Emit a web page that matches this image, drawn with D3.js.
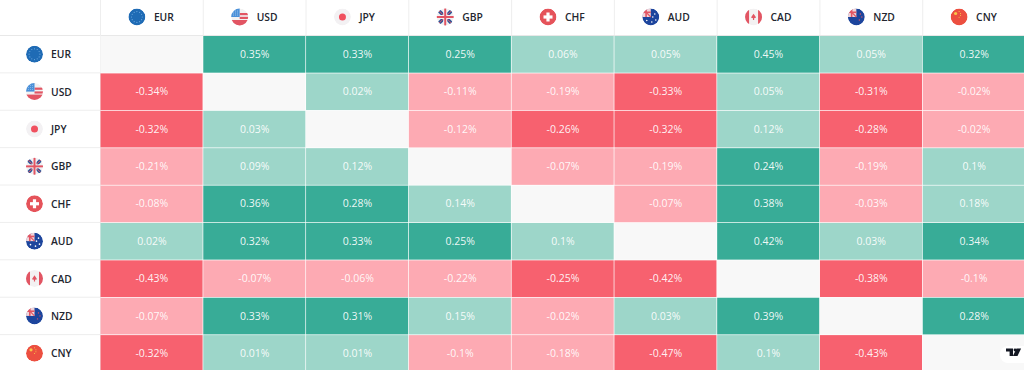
<!DOCTYPE html>
<html><head><meta charset="utf-8">
<script src="https://cdnjs.cloudflare.com/ajax/libs/d3/7.8.5/d3.min.js"></script>
<style>html,body{margin:0;padding:0;background:#fff;overflow:hidden}svg{display:block}
text{font-family:"Open Sans",sans-serif}</style></head><body><svg id="c" width="1024" height="370"></svg>
<script>
const currencies=["EUR","USD","JPY","GBP","CHF","AUD","CAD","NZD","CNY"];
const rowEUR=[null,.35,.33,.25,.06,.05,.45,.05,.32];
const rowUSD=[-.34,null,.02,-.11,-.19,-.33,.05,-.31,-.02];
const rowJPY=[-.32,.03,null,-.12,-.26,-.32,.12,-.28,-.02];
const rowGBP=[-.21,.09,.12,null,-.07,-.19,.24,-.19,.1];
const rowCHF=[-.08,.36,.28,.14,null,-.07,.38,-.03,.18];
const rowAUD=[.02,.32,.33,.25,.1,null,.42,.03,.34];
const rowCAD=[-.43,-.07,-.06,-.22,-.25,-.42,null,-.38,-.1];
const rowNZD=[-.07,.33,.31,.15,-.02,.03,.39,null,.28];
const rowCNY=[-.32,.01,.01,-.1,-.18,-.47,.1,-.43,null];
const matrix=[rowEUR,rowUSD,rowJPY,rowGBP,rowCHF,rowAUD,rowCAD,rowNZD,rowCNY];

const svg=d3.select("#c");
const x=d3.scaleBand().domain(currencies).range([100.5,1025.5]);
const y=d3.scaleBand().domain(currencies).range([35.5,372]);
const color=d3.scaleThreshold().domain([-.235,0,.2]).range(["#f7616f","#fdaab3","#9dd6c9","#38ac97"]);

const cells=matrix.flatMap((r,i)=>r.map((v,j)=>({row:currencies[i],col:currencies[j],v})));
svg.append("g").selectAll("line").data(currencies).join("line")
 .attr("x1",0).attr("x2",100).attr("y1",d=>y(d)+y.bandwidth()).attr("y2",d=>y(d)+y.bandwidth()).attr("stroke","#eeeeee");
svg.append("line").attr("x1",0).attr("x2",1024).attr("y1",35.5).attr("y2",35.5).attr("stroke","#e8e8e8");
svg.append("g").selectAll("line").data(currencies).join("line")
 .attr("x1",d=>x(d)).attr("x2",d=>x(d)).attr("y1",0).attr("y2",35).attr("stroke","#eeeeee");
svg.append("line").attr("x1",100.5).attr("x2",100.5).attr("y1",0).attr("y2",370).attr("stroke","#eeeeee");

const g=svg.append("g");
g.selectAll("rect").data(cells).join("rect")
 .attr("x",d=>x(d.col)).attr("y",d=>y(d.row)+.5)
 .attr("width",x.bandwidth()-.7).attr("height",y.bandwidth()-.7)
 .attr("fill",d=>d.v===null?"#f8f8f8":color(d.v));
g.selectAll("text").data(cells.filter(d=>d.v!==null)).join("text")
 .attr("x",d=>x(d.col)+x.bandwidth()/2).attr("y",d=>y(d.row)+y.bandwidth()/2+3.6)
 .attr("text-anchor","middle").attr("fill","#fff").attr("fill-opacity",.92).attr("font-size",10.5)
 .text(d=>d.v+"%");

const defs=svg.append("defs");
let uid=0;
function flag(sel,code,cx,cy){
 const id="f"+(uid++),r=8.5;
 defs.append("clipPath").attr("id",id).append("circle").attr("cx",cx).attr("cy",cy).attr("r",r);
 const f=sel.append("g").attr("clip-path",`url(#${id})`);
 const R=(a,b,w,h,c)=>f.append("rect").attr("x",cx+a).attr("y",cy+b).attr("width",w).attr("height",h).attr("fill",c);
 const C=(a,b,rad,c)=>f.append("circle").attr("cx",cx+a).attr("cy",cy+b).attr("r",rad).attr("fill",c);
 const L=(a,b,c2,d,col,w)=>f.append("line").attr("x1",cx+a).attr("y1",cy+b).attr("x2",cx+c2).attr("y2",cy+d).attr("stroke",col).attr("stroke-width",w);
 const ukCorner=()=>{R(-9,-9,9,9,"#f0d5da");L(-9,-9,0,0,"#e25563",1.2);R(-9,-5.5,9,1.6,"#e25563");R(-5.5,-9,1.6,9,"#e25563");};
 if(code==="EUR"){
  C(0,0,r,"#1f6bb5");
  d3.range(12).forEach(k=>{const t=k*Math.PI/6;C(5.4*Math.cos(t),5.4*Math.sin(t),.6,"#6aa6de");});
 }else if(code==="USD"){
  C(0,0,r,"#f2f2f2");
  R(-9,3,18,6,"#e25563");R(0,-4,9,2.2,"#e25563");R(0,-.2,9,2.2,"#e25563");
  R(-9,-9,9,9,"#4a90d9");
  [-6,-4,-2].forEach(a=>[-6,-4,-2].forEach(b=>C(a,b,.45,"#dcebf8")));
 }else if(code==="JPY"){
  C(0,0,r,"#f3f1f3");C(0,0,3.5,"#f0505f");
 }else if(code==="GBP"){
  C(0,0,r,"#eeeef2");
  L(-9,-9,9,9,"#2f5597",3.4);L(-9,9,9,-9,"#2f5597",3.4);
  L(-9,-9,9,9,"#e25563",1);L(-9,9,9,-9,"#e25563",1);
  R(-9,-2,18,4,"#f3f3f5");R(-2,-9,4,18,"#f3f3f5");
  R(-9,-1,18,2,"#e25563");R(-1,-9,2,18,"#e25563");
 }else if(code==="CHF"){
  C(0,0,r,"#e5535a");R(-4.5,-1.6,9,3.2,"#fff");R(-1.6,-4.5,3.2,9,"#fff");
 }else if(code==="AUD"||code==="NZD"){
  C(0,0,r,"#1d459d");ukCorner();
  if(code==="AUD"){[[4,-3],[5,3],[1,5],[-4,3.5],[2,0]].forEach(p=>C(p[0],p[1],.8,"#fff"));}
  else{[[4,-3],[5.5,0],[3,3]].forEach(p=>C(p[0],p[1],.7,"#e25563"));}
 }else if(code==="CAD"){
  C(0,0,r,"#f3f1f2");R(-9,-9,4.5,18,"#e25563");R(4.5,-9,4.5,18,"#e25563");
  f.append("path").attr("d",d3.line()([[cx,cy-3.2],[cx+2.6,cy+.6],[cx+.6,cy+1.2],[cx+.6,cy+3],[cx-.6,cy+3],[cx-.6,cy+1.2],[cx-2.6,cy+.6]])).attr("fill","#e25563");
 }else if(code==="CNY"){
  C(0,0,r,"#ec4f40");C(-3.5,-3.5,1.6,"#f7c948");[[0,-5.5],[1.4,-3.5],[1.4,-1.5],[0,.2]].forEach(p=>C(p[0],p[1],.55,"#f7c948"));
 }
}
const labelStyle=s=>s.attr("font-size",10.3).attr("font-weight",600).attr("fill","#23262f");
const hdr=svg.append("g");
currencies.forEach(c=>{
 const cx=x(c)+x.bandwidth()/2;
 flag(hdr,c,cx-15,17);
 labelStyle(hdr.append("text").attr("x",cx+2).attr("y",21).text(c));
});
const side=svg.append("g");
currencies.forEach(c=>{
 const cy=y(c)+y.bandwidth()/2;
 flag(side,c,34.5,cy);
 labelStyle(side.append("text").attr("x",51).attr("y",cy+4).text(c));
});
const wm=svg.append("g");
wm.append("rect").attr("x",1000).attr("y",346).attr("width",40).attr("height",17).attr("rx",8).attr("fill","#fff");
wm.append("path").attr("d","M1006 348.5h7v7.5h-3.4v-4.6H1006z M1016.5 348.5h4.6l-3.6 7.5h-4.6z").attr("fill","#131722");
wm.append("circle").attr("cx",1015).attr("cy",350).attr("r",1.4).attr("fill","#131722");
</script></body></html>
